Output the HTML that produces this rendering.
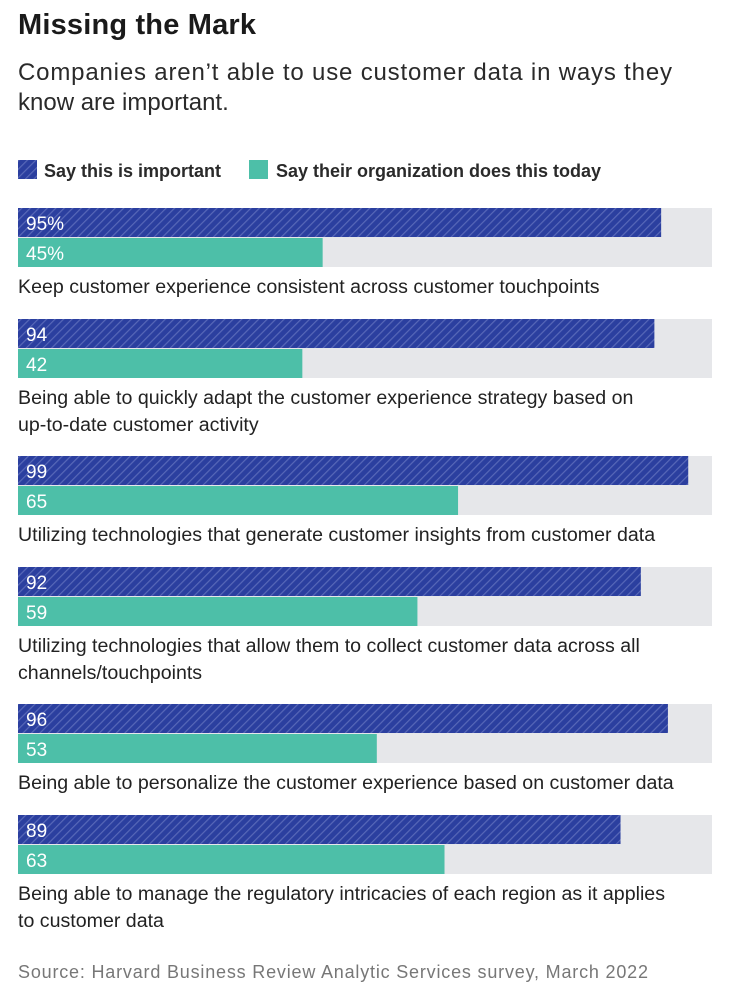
<!DOCTYPE html>
<html><head><meta charset="utf-8"><style>
body{margin:0;background:#fff;}
svg{display:block;font-family:"Liberation Sans",sans-serif;}
</style></head><body>
<svg id="chart" width="738" height="998" viewBox="0 0 738 998" xmlns="http://www.w3.org/2000/svg">
<defs>
<pattern id="hatch" patternUnits="userSpaceOnUse" width="6" height="6" patternTransform="rotate(45)">
<rect width="6" height="6" fill="#2b3f9f"/>
<rect width="1.2" height="6" fill="#5868b8"/>
</pattern>
</defs>
<text x="18" y="34" font-size="29" font-weight="bold" fill="#1a1a1a" textLength="238">Missing the Mark</text>
<text x="18" y="80" font-size="24" fill="#2a2a2a" textLength="654">Companies aren’t able to use customer data in ways they</text>
<text x="18" y="110" font-size="24" fill="#2a2a2a">know are important.</text>
<rect x="18" y="160" width="19" height="19" fill="url(#hatch)"/>
<text x="44" y="177" font-size="18" font-weight="bold" fill="#2a2a2a">Say this is important</text>
<rect x="249" y="160" width="19" height="19" fill="#4dbfa8"/>
<text x="276" y="177" font-size="18" font-weight="bold" fill="#2a2a2a">Say their organization does this today</text>
<g id="bars"></g>
<text x="18" y="978" font-size="18" fill="#777" textLength="630">Source: Harvard Business Review Analytic Services survey, March 2022</text>
</svg>
<script>
const labels = [
 ["Keep customer experience consistent across customer touchpoints"],
 ["Being able to quickly adapt the customer experience strategy based on","up-to-date customer activity"],
 ["Utilizing technologies that generate customer insights from customer data"],
 ["Utilizing technologies that allow them to collect customer data across all","channels/touchpoints"],
 ["Being able to personalize the customer experience based on customer data"],
 ["Being able to manage the regulatory intricacies of each region as it applies","to customer data"]
];
const important = [95, 94, 99, 92, 96, 89];
const doesToday = [45, 42, 65, 59, 53, 63];
const valueText = ["95%","94","99","92","96","89"];
const valueText2 = ["45%","42","65","59","53","63"];

const NS = "http://www.w3.org/2000/svg";
const x0 = 18, scale = (695 - 18) / 100, trackEnd = 712, barH = 29;
const xw = v => v * scale;
const g = document.getElementById('bars');
function mk(tag, attrs){const e=document.createElementNS(NS,tag);for(const k in attrs)e.setAttribute(k,attrs[k]);g.appendChild(e);return e;}
let y = 208;
for (let i = 0; i < important.length; i++) {
  const t = mk('rect',{x:x0,y:y,width:trackEnd-x0,height:barH*2+1,fill:'#e6e7ea'});
  
  
  const b1 = mk('rect',{x:x0,y:y,width:xw(important[i]),height:barH,fill:'url(#hatch)'});
  
  
  const b2 = mk('rect',{x:x0,y:y+barH+1,width:xw(doesToday[i]),height:barH,fill:'#4dbfa8'});
  
  
  const v1 = mk('text',{x:26,y:y+22,'font-size':19,fill:'#fff'}); v1.textContent=valueText[i];
  
  
  const v2 = mk('text',{x:26,y:y+barH+23,'font-size':19,fill:'#fff'}); v2.textContent=valueText2[i];
  
  
  labels[i].forEach((ln,j)=>{
    const l = mk('text',{x:18,y:y+85+j*27,'font-size':19.6,fill:'#222'}); l.textContent=ln;
    
    
  });
  y += labels[i].length > 1 ? 137 : 111;
}
</script>
</body></html>
